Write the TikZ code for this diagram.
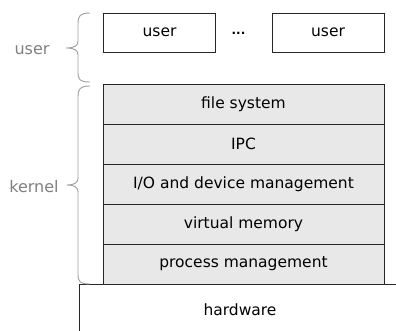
\documentclass[tikz,border=0pt]{standalone}
\usepackage{fontspec}
\setmainfont{DejaVu Sans}
\begin{document}
\begin{tikzpicture}[x=1pt,y=-1pt,
  every node/.style={font=\fontsize{15.5}{18}\selectfont},
  userbox/.style={draw=black!85,line width=0.9pt,minimum width=112pt,minimum height=39pt,inner sep=0pt},
  layer/.style={draw=black!85,line width=0.9pt,fill=black!9,minimum width=281pt,minimum height=40pt,inner sep=0pt},
  bracecol/.style={draw=black!38,line width=0.9pt},
  sidelabel/.style={text=black!50,font=\fontsize{16}{18}\selectfont}]
\useasboundingbox (0,0) rectangle (396,331);
\node[userbox] (u1) at (159.5,32.5) {user};
\node[userbox] (u2) at (328,32.5) {user};
\node[font=\fontsize{12}{14}\selectfont] (dots) at (238.5,33) {\textbf{...}};
\node[layer] (l1) at (243.5,104) {file system};
\node[layer] (l2) at (243.5,144) {IPC};
\node[layer] (l3) at (243.5,184) {I/O and device management};
\node[layer] (l4) at (243.5,224) {virtual memory};
\node[layer] (l5) at (243.5,264) {process management};
\coordinate (hwl) at (79,331);
\coordinate (hwc) at (79,284);
\coordinate (hwr) at (396,284);
\draw[black!85,line width=0.9pt] (hwl) -- (hwc) -- (hwr);
\node (hw) at (240,310) {hardware};
% braces
\draw[bracecol] (90,13) .. controls (80,13) and (78,16) .. (78,24) -- (78,41)
  .. controls (78,46) and (74,48) .. (66,48) .. controls (74,48) and (78,50) .. (78,55)
  -- (78,72) .. controls (78,80) and (80,82) .. (90,82);
\draw[bracecol] (90,86) .. controls (80,86) and (78,89) .. (78,97) -- (78,178)
  .. controls (78,183) and (74,185) .. (67,185) .. controls (74,185) and (78,187) .. (78,192)
  -- (78,274) .. controls (78,282) and (80,284) .. (90,284);
\node[sidelabel] (ulab) at (32,50) {user};
\node[sidelabel] (klab) at (34,187) {kernel};
\end{tikzpicture}
\end{document}
